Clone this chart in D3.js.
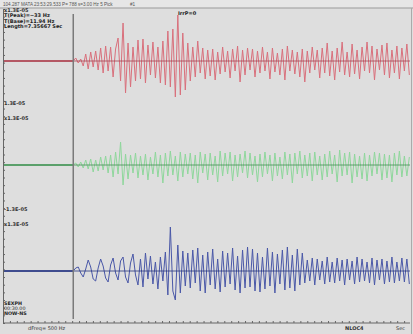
<!DOCTYPE html>
<html>
<head>
<meta charset="utf-8">
<script src="https://cdn.jsdelivr.net/npm/d3@7"></script>
<style>
  body { margin: 0; background: #dedede; }
  svg { display: block; }
  text { font-family: "DejaVu Sans", sans-serif; }
</style>
</head>
<body>
<svg id="chart" width="413" height="334"></svg>
<script>
// seismogram, three components, amplitudes (arbitrary counts)
const traceLength = 7.35667;   // sec
const arrivalTime = 1.27;      // sec, pick marker
const sampleStep = 0.045;      // sec between read-off extrema

const redValues = [
  0, 3, -2, 2, -5, 7, -8, 9, -6, 10, -9,
  13, -12, 15, -10, 14, -16, 12,
  23, -20, 38, -32, 18,
  -26, 14, -20, 21, -18,
  22, -22, 16, -14, 19,
  -17, 14, -22, 20, -24,
  30, -26, 32, -36, 46, -34, 28, -29,
  18, -20, 14, -16, 20, -12, 13, -18, 11, -15,
  12, -19, 9, -13, 14, -11, 10, -17, 12, -10, 15, -21, 11, -14, 13,
  -9, 12, -16, 10, -12, 14, -10, 9, -18, 13, -11, 8, -14, 12, -19, 15, -10, 11, -13, 9, -16, 12,
  -21, 10, -12, 14, -9, 11, -17, 13,
  -12, 18, -15, 10, -19, 13, -11, 19, -14, 9, -16, 17, -13, 11, -18, 14, -10, 19, -12, 15,
  -19, 12, -9, 16, -14, 18, -17, 11, -12, 15, -18, 13, -10, 17, -14
];

const greenValues = [
  0, 2, -2, 3, -3,
  5, -4, 6, -7, 5, -6, 8, -5, 9, -8,
  10, -12, 13, -9, 23, -20, 11, -14,
  10, -8, 12, -13, 9, -10, 11, -15, 8, -9, 13, -12, 10, -18, 12, -11, 14, -10, 9, -16, 13, -12, 11,
  -9, 12, -14, 10, -18, 13, -8, 11, -15, 12, -10, 9, -17, 14, -11, 12, -9, 13, -16, 10, -12, 11, -8, 14, -13,
  12, -10, 9, -17, 11, -12, 13, -9, 10, -16, 12, -11, 8, -14, 13, -10, 11, -18, 12, -9, 14, -13, 10, -11, 12,
  -16, 13, -10, 9, -15,
  11, -12, 14, -9, 10, -17, 15, -11, 12, -10, 13, -18, 11, -12, 9, -14, 12, -16, 10, -11, 13, -9, 12, -15,
  11, -13, 10, -17, 12, -10, 14, -12, 9, -11, 8
];

const blueValues = [
  0, 3, 4, -2, -6,
  2, 11, 4, -8, -10, 3, 12, 5, -7, -11, 6, 13, -2, -9, 10, 14, -6, -12,
  8, 17, -4, -14, 12, -16, 18, -8, 15, -13, 9, -18, 14, -10, 19,
  -24, 44, -20, -29, 26, -22, 20, -15,
  18, -17, 21, -12, 23, -20, 16, -22, 19, -14, 22, -18, 12, -21, 20, -16, 18, -13, 23, -19, 15, -22, 21, -17, 24,
  -16, 22, -20, 18, -21, 14, -18, 23, -15, 19, -22, 17, -13, 21, -19, 24, -17, 16, -20, 22, -14, 18,
  -12, 11, -10, 13, -14, 12, -9, 10, -13, 14, -11, 9, -12, 13, -10, 11, -14, 12, -9, 10, -13, 14,
  -11, 12, -10, 9, -12, 13, -14, 11, -9, 12, -13, 10, -11, 14, -12, 9, -10, 13, -11, 12, -13
];

const traces = [
  { name: "Z", values: redValues,   base: 61,  line: "#d9707c", axis: "#a8404e" },
  { name: "N", values: greenValues, base: 165, line: "#8fd79c", axis: "#3f8f52" },
  { name: "E", values: blueValues,  base: 271, line: "#4a58a8", axis: "#26357f" }
];

const headerText = "104.287 MATA 23:53:29.533 P= 788 s=3.00 Hz 5 Pick";
const infoLines = ["T(Peak)=~33 Hz", "T(Base)=11.94 Hz", "Length=7.35667 Sec"];
const scaleLabels = [
  { text: "x1.3E-05", y: 12 },
  { text: "1.3E-05", y: 105 },
  { text: "x1.3E-05", y: 120 },
  { text: "-1.3E-05", y: 211 },
  { text: "x1.3E-05", y: 226 }
];
const stationLines = ["SEXPH", "00:30.00", "NOW-NS"];

const svg = d3.select("#chart");
const W = 413, H = 334;
const mLeft = 3, mRight = 410, mTop = 8, mBottom = 323;

const x = d3.scaleLinear().domain([0, traceLength]).range([mLeft, mRight]);

// header strip
svg.append("rect").attr("x", 0).attr("y", 0).attr("width", W).attr("height", mTop)
  .attr("fill", "#e6e6e6");
svg.append("line").attr("x1", 0).attr("x2", W).attr("y1", mTop).attr("y2", mTop)
  .attr("stroke", "#9a9a9a").attr("stroke-width", 1);
svg.append("text").attr("x", 3).attr("y", 6).attr("font-size", 4.6)
  .style("font-family", "'Liberation Sans', sans-serif")
  .attr("fill", "#555").text(headerText);
svg.append("text").attr("x", 130).attr("y", 6).attr("font-size", 4.6)
  .style("font-family", "'Liberation Sans', sans-serif")
  .attr("fill", "#555").text("#1");

// right border
svg.append("line").attr("x1", W - 1.5).attr("x2", W - 1.5).attr("y1", mTop).attr("y2", H)
  .attr("stroke", "#aaa");

// traces
const line = d3.line()
  .x(d => x(d.t))
  .y(d => d.y);

traces.forEach(tr => {
  const y = d3.scaleLinear().domain([-50, 50]).range([tr.base + 50, tr.base - 50]);
  const pts = [{ t: 0, y: y(0) }].concat(
    tr.values.map((v, i) => ({ t: arrivalTime + i * sampleStep, y: y(v) }))
  ).filter(d => d.t <= traceLength);

  svg.append("path")
    .datum(pts)
    .attr("fill", "none")
    .attr("stroke", tr.line)
    .attr("stroke-width", 1)
    .attr("d", line);

  svg.append("line")
    .attr("x1", mLeft).attr("x2", mRight)
    .attr("y1", y(0)).attr("y2", y(0))
    .attr("stroke", tr.axis).attr("stroke-width", 0.8);

  // darker pre-arrival section
  svg.append("line")
    .attr("x1", mLeft).attr("x2", x(arrivalTime))
    .attr("y1", y(0)).attr("y2", y(0))
    .attr("stroke", tr.axis).attr("stroke-width", 1.4).attr("opacity", 0.8);
});

// pick marker
svg.append("line")
  .attr("x1", x(arrivalTime)).attr("x2", x(arrivalTime))
  .attr("y1", mTop + 6).attr("y2", mBottom - 4)
  .attr("stroke", "#7a7a7a").attr("stroke-width", 1.5);

// frame axes
const yFrame = d3.scaleLinear().domain([0, 41]).range([mTop + 1, mBottom]);
const gLeft = svg.append("g").attr("transform", `translate(${mLeft},0)`)
  .call(d3.axisRight(yFrame).ticks(41).tickSize(2).tickFormat(""));
gLeft.selectAll("path,line").attr("stroke", "#666");

const gBottom = svg.append("g").attr("transform", `translate(0,${mBottom})`)
  .call(d3.axisTop(x).tickValues(d3.range(0, traceLength, 0.125)).tickSize(2).tickFormat(""));
gBottom.selectAll("path,line").attr("stroke", "#666");
gBottom.select(".domain").attr("d", `M${mLeft},0H${mRight}`);

// labels
svg.append("g").selectAll("text").data(infoLines).join("text")
  .attr("x", 4).attr("y", (d, i) => 17 + i * 5.5)
  .attr("font-size", 5).attr("font-weight", "bold").attr("fill", "#222")
  .text(d => d);

svg.append("g").selectAll("text").data(scaleLabels).join("text")
  .attr("x", 4).attr("y", d => d.y)
  .attr("font-size", 5).attr("font-weight", "bold").attr("fill", "#333")
  .text(d => d.text);

svg.append("text").attr("x", 178).attr("y", 15).attr("font-size", 5)
  .attr("font-weight", "bold").attr("fill", "#222").text("IrrP=0");

svg.append("g").selectAll("text").data(stationLines).join("text")
  .attr("x", 4).attr("y", (d, i) => 305 + i * 5)
  .attr("font-size", 4.8).attr("font-weight", (d, i) => i === 1 ? "normal" : "bold")
  .attr("fill", "#222")
  .text(d => d);

svg.append("text").attr("x", 28).attr("y", 330).attr("font-size", 5)
  .attr("fill", "#333").text("dFreq= 500 Hz");
svg.append("text").attr("x", 345).attr("y", 330).attr("font-size", 5)
  .attr("font-weight", "bold").attr("fill", "#333").text("NLOC4");
svg.append("text").attr("x", 396).attr("y", 330).attr("font-size", 5)
  .attr("fill", "#333").text("Sec");
</script>
</body>
</html>
